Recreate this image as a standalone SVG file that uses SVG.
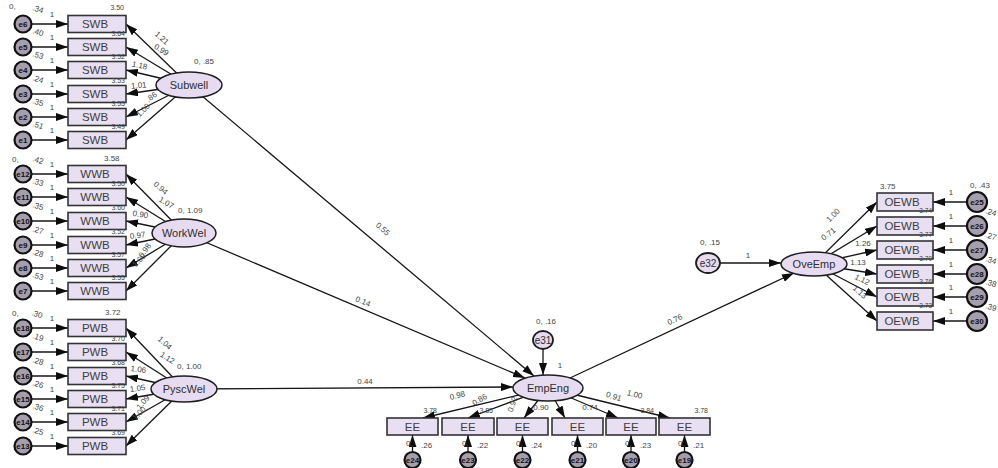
<svg xmlns="http://www.w3.org/2000/svg" width="998" height="468" viewBox="0 0 998 468">
<defs>
<marker id="ah" viewBox="0 0 12 8" refX="12" refY="4" markerWidth="12" markerHeight="8" markerUnits="userSpaceOnUse" orient="auto"><path d="M0,0 L12,4 L0,8 z" fill="#0d0d0d"/></marker>
<style>
text{font-family:"Liberation Sans",Arial,sans-serif;}
.box{fill:#e9dff2;stroke:#333;stroke-width:1.6}
.lat{fill:#e6dbf1;stroke:#1e1e1e;stroke-width:1.5}
.err{fill:#a69eae;stroke:#111;stroke-width:2.2}
.bl{font-size:11.5px;fill:#3d3d3d;text-anchor:middle}
.ll{font-size:11px;fill:#2e2e2e;text-anchor:middle}
.el{font-size:8px;fill:#111;text-anchor:middle;font-weight:bold}
.n{font-size:8px;fill:#444}
.nm{font-size:8px;fill:#444;text-anchor:middle}
.ne{font-size:7px;fill:#444;text-anchor:end}
.conn line{stroke:#161616;stroke-width:1.3;fill:none;marker-end:url(#ah)}
</style>
</defs>
<rect width="998" height="468" fill="#fff"/>

<!-- connectors -->
<g class="conn">
<!-- SWB errors -->
<line x1="31" y1="24" x2="68" y2="24"/><line x1="31" y1="47" x2="68" y2="47"/><line x1="31" y1="70" x2="68" y2="70"/>
<line x1="31" y1="94" x2="68" y2="94"/><line x1="31" y1="117" x2="68" y2="117"/><line x1="31" y1="140" x2="68" y2="140"/>
<!-- WWB errors -->
<line x1="31" y1="174" x2="68" y2="174"/><line x1="31" y1="197" x2="68" y2="197"/><line x1="31" y1="221" x2="68" y2="221"/>
<line x1="31" y1="245" x2="68" y2="245"/><line x1="31" y1="268" x2="68" y2="268"/><line x1="31" y1="291" x2="68" y2="291"/>
<!-- PWB errors -->
<line x1="31" y1="328" x2="68" y2="328"/><line x1="31" y1="352" x2="68" y2="352"/><line x1="31" y1="376" x2="68" y2="376"/>
<line x1="31" y1="399" x2="68" y2="399"/><line x1="31" y1="422" x2="68" y2="422"/><line x1="31" y1="446" x2="68" y2="446"/>
<!-- Subwell loadings -->
<line x1="189" y1="85" x2="126" y2="24"/><line x1="189" y1="85" x2="126" y2="47"/><line x1="189" y1="85" x2="126" y2="70"/>
<line x1="189" y1="85" x2="126" y2="94"/><line x1="189" y1="85" x2="126" y2="117"/><line x1="189" y1="85" x2="126" y2="140"/>
<!-- WorkWel loadings -->
<line x1="184" y1="233" x2="126" y2="174"/><line x1="184" y1="233" x2="126" y2="197"/><line x1="184" y1="233" x2="126" y2="221"/>
<line x1="184" y1="233" x2="126" y2="245"/><line x1="184" y1="233" x2="126" y2="268"/><line x1="184" y1="233" x2="126" y2="291"/>
<!-- PyscWel loadings -->
<line x1="184" y1="389" x2="126" y2="328"/><line x1="184" y1="389" x2="126" y2="352"/><line x1="184" y1="389" x2="126" y2="376"/>
<line x1="184" y1="389" x2="126" y2="399"/><line x1="184" y1="389" x2="126" y2="422"/><line x1="184" y1="389" x2="126" y2="446"/>
<!-- structural paths -->
<line x1="189" y1="85" x2="534" y2="376"/>
<line x1="184" y1="233" x2="525" y2="378"/>
<line x1="184" y1="389" x2="513" y2="387"/>
<line x1="543" y1="349" x2="543" y2="375"/>
<line x1="570" y1="378" x2="794" y2="273"/>
<line x1="720" y1="263" x2="781" y2="263"/>
<!-- EmpEng loadings -->
<line x1="548" y1="388" x2="423" y2="418"/><line x1="548" y1="388" x2="468" y2="418"/><line x1="548" y1="388" x2="524" y2="418"/>
<line x1="548" y1="388" x2="565" y2="418"/><line x1="548" y1="388" x2="618" y2="418"/><line x1="548" y1="388" x2="670" y2="418"/>
<!-- EE errors -->
<line x1="412.5" y1="452" x2="412.5" y2="435"/><line x1="468" y1="452" x2="468" y2="435"/><line x1="522.5" y1="452" x2="522.5" y2="435"/>
<line x1="577.5" y1="452" x2="577.5" y2="435"/><line x1="631" y1="452" x2="631" y2="435"/><line x1="684.5" y1="452" x2="684.5" y2="435"/>
<!-- OveEmp loadings -->
<line x1="814" y1="264" x2="877" y2="202"/><line x1="814" y1="264" x2="877" y2="226"/><line x1="814" y1="264" x2="877" y2="250"/>
<line x1="814" y1="264" x2="877" y2="274"/><line x1="814" y1="264" x2="877" y2="297"/><line x1="814" y1="264" x2="877" y2="321"/>
<!-- OEWB errors -->
<line x1="967" y1="202" x2="933" y2="202"/><line x1="967" y1="226" x2="933" y2="226"/><line x1="967" y1="250" x2="933" y2="250"/>
<line x1="967" y1="274" x2="933" y2="274"/><line x1="967" y1="297" x2="933" y2="297"/><line x1="967" y1="321" x2="933" y2="321"/>
</g>

<!-- connector labels -->
<g class="n">
<text x="52" y="17" class="nm">1</text><text x="52" y="40" class="nm">1</text><text x="52" y="63" class="nm">1</text>
<text x="52" y="87" class="nm">1</text><text x="52" y="110" class="nm">1</text><text x="52" y="133" class="nm">1</text>
<text x="52" y="167" class="nm">1</text><text x="52" y="190" class="nm">1</text><text x="52" y="214" class="nm">1</text>
<text x="52" y="238" class="nm">1</text><text x="52" y="261" class="nm">1</text><text x="52" y="284" class="nm">1</text>
<text x="52" y="321" class="nm">1</text><text x="52" y="345" class="nm">1</text><text x="52" y="369" class="nm">1</text>
<text x="52" y="392" class="nm">1</text><text x="52" y="415" class="nm">1</text><text x="52" y="439" class="nm">1</text>

<text class="nm" transform="translate(160,40) rotate(42)">1.21</text>
<text class="nm" transform="translate(160,52) rotate(32)">0.99</text>
<text class="nm" transform="translate(139,68) rotate(12)">1.18</text>
<text class="nm" transform="translate(139,88) rotate(-5)">1.01</text>
<text class="nm" transform="translate(153,99) rotate(-35)">.86</text>
<text class="nm" transform="translate(145,112) rotate(-45)">1.00</text>

<text class="nm" transform="translate(159,190) rotate(40)">0.94</text>
<text class="nm" transform="translate(165,205) rotate(30)">1.07</text>
<text class="nm" transform="translate(140,217) rotate(10)">0.90</text>
<text class="nm" transform="translate(138,238) rotate(-8)">0.97</text>
<text class="nm" transform="translate(147,252) rotate(-55)">0.98</text>
<text class="nm" transform="translate(141,262) rotate(-45)">1.00</text>

<text class="nm" transform="translate(163,345) rotate(42)">1.04</text>
<text class="nm" transform="translate(166,360) rotate(32)">1.12</text>
<text class="nm" transform="translate(138,372) rotate(8)">1.06</text>
<text class="nm" transform="translate(138,391) rotate(-8)">1.05</text>
<text class="nm" transform="translate(145,404) rotate(-50)">1.09</text>
<text class="nm" transform="translate(141,415) rotate(-45)">1.00</text>

<text class="nm" transform="translate(381,231) rotate(41)">0.55</text>
<text class="nm" transform="translate(362,304) rotate(23)">0.14</text>
<text class="nm" x="365" y="384">0.44</text>
<text class="nm" transform="translate(676,322) rotate(-25)">0.76</text>
<text class="nm" x="560" y="368">1</text>
<text class="nm" x="748" y="258">1</text>

<text class="nm" transform="translate(458,398) rotate(-14)">0.98</text>
<text class="nm" transform="translate(481,402) rotate(-30)">0.86</text>
<text class="nm" transform="translate(515,405) rotate(-72)">0.92</text>
<text class="nm" x="541" y="410">0.90</text>
<text class="nm" x="590" y="410">0.74</text>
<text class="nm" transform="translate(613,399) rotate(18)">0.91</text>
<text class="nm" transform="translate(634,397) rotate(14)">1.00</text>

<text class="nm" transform="translate(835,217) rotate(-45)">1.00</text>
<text class="nm" transform="translate(830,236) rotate(-38)">0.71</text>
<text class="nm" x="863" y="246">1.26</text>
<text class="nm" x="858" y="265">1.13</text>
<text class="nm" transform="translate(861,282) rotate(25)">1.12</text>
<text class="nm" transform="translate(858,294) rotate(42)">1.13</text>

<text x="951" y="195" class="nm">1</text><text x="951" y="219" class="nm">1</text><text x="951" y="243" class="nm">1</text>
<text x="951" y="267" class="nm">1</text><text x="951" y="290" class="nm">1</text><text x="951" y="314" class="nm">1</text>
</g>

<!-- SWB indicators -->
<g id="SWB1"><rect class="box" x="68" y="15.5" width="58" height="17"/><text class="bl" x="95" y="28">SWB</text><text class="ne" x="124" y="10">3.50</text></g>
<g id="SWB2"><rect class="box" x="68" y="38.5" width="58" height="17"/><text class="bl" x="95" y="51">SWB</text><text class="ne" x="125" y="36">3.64</text></g>
<g id="SWB3"><rect class="box" x="68" y="61.5" width="58" height="17"/><text class="bl" x="95" y="74">SWB</text><text class="ne" x="125" y="59">3.52</text></g>
<g id="SWB4"><rect class="box" x="68" y="85.5" width="58" height="17"/><text class="bl" x="95" y="98">SWB</text><text class="ne" x="125" y="83">3.53</text></g>
<g id="SWB5"><rect class="box" x="68" y="108.5" width="58" height="17"/><text class="bl" x="95" y="121">SWB</text><text class="ne" x="125" y="106">3.55</text></g>
<g id="SWB6"><rect class="box" x="68" y="131.5" width="58" height="17"/><text class="bl" x="95" y="144">SWB</text><text class="ne" x="125" y="129">3.49</text></g>

<!-- WWB indicators -->
<g id="WWB1"><rect class="box" x="68" y="165.5" width="58" height="17"/><text class="bl" x="95" y="178">WWB</text><text class="n" x="104" y="161">3.58</text></g>
<g id="WWB2"><rect class="box" x="68" y="188.5" width="58" height="17"/><text class="bl" x="95" y="201">WWB</text><text class="ne" x="125" y="186">3.50</text></g>
<g id="WWB3"><rect class="box" x="68" y="212.5" width="58" height="17"/><text class="bl" x="95" y="225">WWB</text><text class="ne" x="125" y="210">3.60</text></g>
<g id="WWB4"><rect class="box" x="68" y="236.5" width="58" height="17"/><text class="bl" x="95" y="249">WWB</text><text class="ne" x="125" y="234">3.52</text></g>
<g id="WWB5"><rect class="box" x="68" y="259.5" width="58" height="17"/><text class="bl" x="95" y="272">WWB</text><text class="ne" x="125" y="257">3.57</text></g>
<g id="WWB6"><rect class="box" x="68" y="282.5" width="58" height="17"/><text class="bl" x="95" y="295">WWB</text><text class="ne" x="125" y="280">3.55</text></g>

<!-- PWB indicators -->
<g id="PWB1"><rect class="box" x="68" y="319.5" width="58" height="17"/><text class="bl" x="95" y="332">PWB</text><text class="n" x="105" y="315">3.72</text></g>
<g id="PWB2"><rect class="box" x="68" y="343.5" width="58" height="17"/><text class="bl" x="95" y="356">PWB</text><text class="ne" x="125" y="341">3.70</text></g>
<g id="PWB3"><rect class="box" x="68" y="367.5" width="58" height="17"/><text class="bl" x="95" y="380">PWB</text><text class="ne" x="125" y="365">3.68</text></g>
<g id="PWB4"><rect class="box" x="68" y="390.5" width="58" height="17"/><text class="bl" x="95" y="403">PWB</text><text class="ne" x="125" y="388">3.75</text></g>
<g id="PWB5"><rect class="box" x="68" y="413.5" width="58" height="17"/><text class="bl" x="95" y="426">PWB</text><text class="ne" x="125" y="411">3.71</text></g>
<g id="PWB6"><rect class="box" x="68" y="437.5" width="58" height="17"/><text class="bl" x="95" y="450">PWB</text><text class="ne" x="125" y="435">3.69</text></g>

<!-- left error terms -->
<g id="e6"><text class="n" x="9" y="9">0,</text><text class="n" transform="translate(32,10) rotate(18)">.34</text><circle class="err" cx="23" cy="24" r="8.5"/><text class="el" x="23" y="27">e6</text></g>
<g id="e5"><text class="n" transform="translate(32,33) rotate(18)">.40</text><circle class="err" cx="23" cy="47" r="8.5"/><text class="el" x="23" y="50">e5</text></g>
<g id="e4"><text class="n" transform="translate(32,56) rotate(18)">.53</text><circle class="err" cx="23" cy="70" r="8.5"/><text class="el" x="23" y="73">e4</text></g>
<g id="e3"><text class="n" transform="translate(32,80) rotate(18)">.24</text><circle class="err" cx="23" cy="94" r="8.5"/><text class="el" x="23" y="97">e3</text></g>
<g id="e2"><text class="n" transform="translate(32,103) rotate(18)">.35</text><circle class="err" cx="23" cy="117" r="8.5"/><text class="el" x="23" y="120">e2</text></g>
<g id="e1"><text class="n" transform="translate(32,126) rotate(18)">.51</text><circle class="err" cx="23" cy="140" r="8.5"/><text class="el" x="23" y="143">e1</text></g>

<g id="e12"><text class="n" x="12" y="162">0,</text><text class="n" transform="translate(32,161) rotate(18)">.42</text><circle class="err" cx="23" cy="174" r="8.5"/><text class="el" x="23" y="177">e12</text></g>
<g id="e11"><text class="n" transform="translate(32,183) rotate(18)">.33</text><circle class="err" cx="23" cy="197" r="8.5"/><text class="el" x="23" y="200">e11</text></g>
<g id="e10"><text class="n" transform="translate(32,207) rotate(18)">.35</text><circle class="err" cx="23" cy="221" r="8.5"/><text class="el" x="23" y="224">e10</text></g>
<g id="e9"><text class="n" transform="translate(32,231) rotate(18)">.27</text><circle class="err" cx="23" cy="245" r="8.5"/><text class="el" x="23" y="248">e9</text></g>
<g id="e8"><text class="n" transform="translate(32,254) rotate(18)">.28</text><circle class="err" cx="23" cy="268" r="8.5"/><text class="el" x="23" y="271">e8</text></g>
<g id="e7"><text class="n" transform="translate(32,277) rotate(18)">.53</text><circle class="err" cx="23" cy="291" r="8.5"/><text class="el" x="23" y="294">e7</text></g>

<g id="e18"><text class="n" x="12" y="316">0,</text><text class="n" transform="translate(31,315) rotate(18)">.30</text><circle class="err" cx="23" cy="328" r="8.5"/><text class="el" x="23" y="331">e18</text></g>
<g id="e17"><text class="n" transform="translate(32,338) rotate(18)">.19</text><circle class="err" cx="23" cy="352" r="8.5"/><text class="el" x="23" y="355">e17</text></g>
<g id="e16"><text class="n" transform="translate(32,362) rotate(18)">.28</text><circle class="err" cx="23" cy="376" r="8.5"/><text class="el" x="23" y="379">e16</text></g>
<g id="e15"><text class="n" transform="translate(32,385) rotate(18)">.26</text><circle class="err" cx="23" cy="399" r="8.5"/><text class="el" x="23" y="402">e15</text></g>
<g id="e14"><text class="n" transform="translate(32,408) rotate(18)">.36</text><circle class="err" cx="23" cy="422" r="8.5"/><text class="el" x="23" y="425">e14</text></g>
<g id="e13"><text class="n" transform="translate(32,432) rotate(18)">.25</text><circle class="err" cx="23" cy="446" r="8.5"/><text class="el" x="23" y="449">e13</text></g>

<!-- latent factors -->
<g id="Subwell"><text class="n" x="194" y="64">0,  .85</text><ellipse class="lat" cx="189" cy="85" rx="33" ry="13"/><text class="ll" x="189" y="89">Subwell</text></g>
<g id="WorkWel"><text class="n" x="178" y="213">0, 1.09</text><ellipse class="lat" cx="184" cy="233" rx="32" ry="14"/><text class="ll" x="184" y="237">WorkWel</text></g>
<g id="PyscWel"><text class="n" x="177" y="369">0, 1.00</text><ellipse class="lat" cx="184" cy="389" rx="33" ry="13"/><text class="ll" x="184" y="393">PyscWel</text></g>

<g id="e31"><text class="n" x="536" y="324">0,  .16</text><ellipse class="lat" cx="543" cy="340" rx="10" ry="9" style="stroke-width:1.8"/><text class="ll" x="543" y="344" style="font-size:10px">e31</text></g>
<g id="EmpEng"><ellipse class="lat" cx="548" cy="388" rx="35" ry="13"/><text class="ll" x="548" y="392">EmpEng</text></g>

<g id="e32"><text class="n" x="700" y="245">0,  .15</text><ellipse class="lat" cx="708" cy="263" rx="12" ry="10" style="stroke-width:1.8"/><text class="ll" x="708" y="267" style="font-size:10px">e32</text></g>
<g id="OveEmp"><ellipse class="lat" cx="814" cy="264" rx="33" ry="12"/><text class="ll" x="814" y="268">OveEmp</text></g>

<!-- EE indicators -->
<g id="EE1"><rect class="box" x="387" y="418" width="51" height="17"/><text class="bl" x="412.5" y="430.5">EE</text><text class="ne" x="437" y="413">3.78</text></g>
<g id="EE2"><rect class="box" x="442" y="418" width="52" height="17"/><text class="bl" x="468" y="430.5">EE</text><text class="ne" x="493" y="413">3.85</text></g>
<g id="EE3"><rect class="box" x="497" y="418" width="51" height="17"/><text class="bl" x="522.5" y="430.5">EE</text></g>
<g id="EE4"><rect class="box" x="552" y="418" width="51" height="17"/><text class="bl" x="577.5" y="430.5">EE</text></g>
<g id="EE5"><rect class="box" x="606" y="418" width="50" height="17"/><text class="bl" x="631" y="430.5">EE</text><text class="ne" x="654" y="413">3.84</text></g>
<g id="EE6"><rect class="box" x="659" y="418" width="51" height="17"/><text class="bl" x="684.5" y="430.5">EE</text><text class="ne" x="708" y="413">3.78</text></g>

<!-- EE error terms -->
<g id="e24"><text class="n" x="406" y="446">0,</text><text class="n" x="421" y="448">.26</text><circle class="err" cx="412.5" cy="460" r="8"/><text class="el" x="412.5" y="463">e24</text></g>
<g id="e23"><text class="n" x="462" y="446">0,</text><text class="n" x="477" y="448">.22</text><circle class="err" cx="468" cy="460" r="8"/><text class="el" x="468" y="463">e23</text></g>
<g id="e22"><text class="n" x="516" y="446">0,</text><text class="n" x="531" y="448">.24</text><circle class="err" cx="522.5" cy="460" r="8"/><text class="el" x="522.5" y="463">e22</text></g>
<g id="e21"><text class="n" x="571" y="446">0,</text><text class="n" x="586" y="448">.20</text><circle class="err" cx="577.5" cy="460" r="8"/><text class="el" x="577.5" y="463">e21</text></g>
<g id="e20"><text class="n" x="625" y="446">0,</text><text class="n" x="640" y="448">.23</text><circle class="err" cx="631" cy="460" r="8"/><text class="el" x="631" y="463">e20</text></g>
<g id="e19"><text class="n" x="678" y="446">0,</text><text class="n" x="693" y="448">.21</text><circle class="err" cx="684.5" cy="460" r="8"/><text class="el" x="684.5" y="463">e19</text></g>

<!-- OEWB indicators -->
<g id="OEWB1"><rect class="box" x="877" y="193" width="56" height="18"/><text class="bl" x="902" y="206">OEWB</text><text class="n" x="880" y="189">3.75</text></g>
<g id="OEWB2"><rect class="box" x="877" y="217" width="56" height="18"/><text class="bl" x="902" y="230">OEWB</text><text class="ne" x="932" y="213" style="font-size:6.5px">3.74</text></g>
<g id="OEWB3"><rect class="box" x="877" y="241" width="56" height="18"/><text class="bl" x="902" y="254">OEWB</text><text class="ne" x="932" y="237" style="font-size:6.5px">3.77</text></g>
<g id="OEWB4"><rect class="box" x="877" y="265" width="56" height="18"/><text class="bl" x="902" y="278">OEWB</text><text class="ne" x="932" y="261" style="font-size:6.5px">3.70</text></g>
<g id="OEWB5"><rect class="box" x="877" y="288" width="56" height="18"/><text class="bl" x="902" y="301">OEWB</text><text class="ne" x="932" y="284" style="font-size:6.5px">3.76</text></g>
<g id="OEWB6"><rect class="box" x="877" y="312" width="56" height="18"/><text class="bl" x="902" y="325">OEWB</text><text class="ne" x="932" y="308" style="font-size:6.5px">3.73</text></g>

<!-- OEWB error terms -->
<g id="e25"><text class="n" x="970" y="188">0,  .43</text><circle class="err" cx="977" cy="202" r="10"/><text class="el" x="977" y="205">e25</text></g>
<g id="e26"><text class="n" transform="translate(985,213) rotate(18)">.24</text><circle class="err" cx="977" cy="226" r="10"/><text class="el" x="977" y="229">e26</text></g>
<g id="e27"><text class="n" transform="translate(985,237) rotate(18)">.27</text><circle class="err" cx="977" cy="250" r="10"/><text class="el" x="977" y="253">e27</text></g>
<g id="e28"><text class="n" transform="translate(985,261) rotate(18)">.34</text><circle class="err" cx="977" cy="274" r="10"/><text class="el" x="977" y="277">e28</text></g>
<g id="e29"><text class="n" transform="translate(985,284) rotate(18)">.38</text><circle class="err" cx="977" cy="297" r="10"/><text class="el" x="977" y="300">e29</text></g>
<g id="e30"><text class="n" transform="translate(985,308) rotate(18)">.39</text><circle class="err" cx="977" cy="321" r="10"/><text class="el" x="977" y="324">e30</text></g>
</svg>
